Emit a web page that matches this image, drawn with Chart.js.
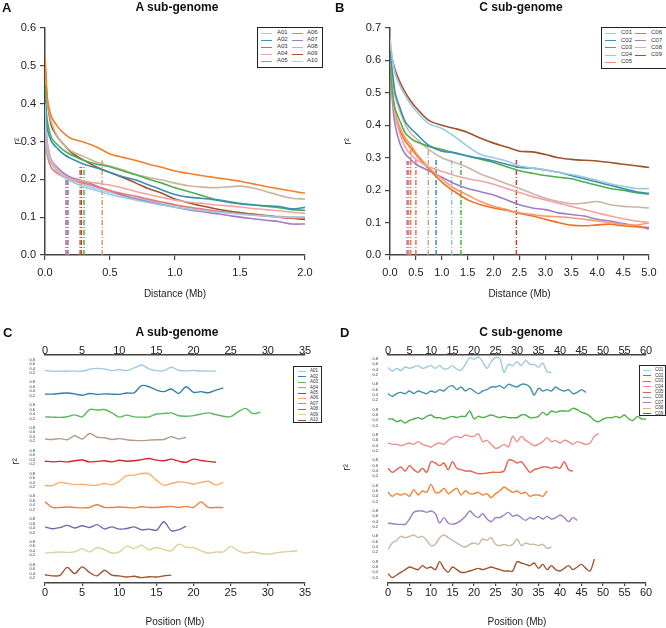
<!DOCTYPE html>
<html>
<head>
<meta charset="utf-8">
<script src="https://cdn.jsdelivr.net/npm/chart.js@4.4.0/dist/chart.umd.min.js"></script>
<style>
  body { margin: 0; background: #fff; font-family: "Liberation Sans", Arial, sans-serif; }
  #wrap { position: relative; width: 666px; height: 628px; overflow: hidden; }
  canvas { position: absolute; }
  .letter { position: absolute; font-weight: bold; font-size: 13px; color: #111; }
  .title { position: absolute; font-weight: bold; font-size: 12px; color: #111; transform: translateX(-50%); white-space: nowrap; }
  .rlab { position: absolute; font-size: 10px; color: #222; transform: rotate(-90deg); }
  .legend { position: absolute; border: 1.5px solid #222; background: #fff; box-sizing: border-box; }
</style>
</head>
<body>
<div id="wrap">
  <canvas id="chartA" width="333" height="300" style="left:0;top:0"></canvas>
  <canvas id="chartB" width="333" height="300" style="left:333px;top:0"></canvas>
  <canvas id="chartC" width="333" height="328" style="left:0;top:300px"></canvas>
  <canvas id="chartD" width="333" height="328" style="left:333px;top:300px"></canvas>

  <div class="letter" style="left:2px;top:0">A</div>
  <div class="letter" style="left:335px;top:0">B</div>
  <div class="letter" style="left:3px;top:325px">C</div>
  <div class="letter" style="left:340px;top:325px">D</div>
  <div class="title" style="left:177px;top:0">A sub-genome</div>
  <div class="title" style="left:521px;top:0">C sub-genome</div>
  <div class="title" style="left:177px;top:325px">A sub-genome</div>
  <div class="title" style="left:521px;top:325px">C sub-genome</div>
  <div class="rlab" style="left:12px;top:456px">r²</div>
  <div class="rlab" style="left:343px;top:462px">r²</div>

  <div class="legend" id="legA" style="left:257px;top:27px;width:66px;height:41px"></div>
  <div class="legend" id="legB" style="left:601px;top:27px;width:67px;height:42px"></div>
  <div class="legend" id="legC" style="left:293px;top:366px;width:29px;height:57px"></div>
  <div class="legend" id="legD" style="left:639px;top:365px;width:27px;height:51px"></div>
</div>
<script>
// ---- LD decay, A sub-genome (distance in Mb) ----
const distA = [0, 0.01, 0.02, 0.05, 0.1, 0.15, 0.2, 0.3, 0.4, 0.5, 0.6, 0.7, 0.8, 0.9, 1.0, 1.1, 1.2, 1.3, 1.4, 1.5, 1.6, 1.7, 1.8, 1.9, 2.0];
const decA01 = [0.4, 0.3, 0.27, 0.24, 0.22, 0.205, 0.195, 0.18, 0.17, 0.16, 0.152, 0.145, 0.138, 0.132, 0.126, 0.122, 0.118, 0.114, 0.111, 0.108, 0.105, 0.103, 0.1, 0.1, 0.1];
const decA02 = [0.42, 0.36, 0.33, 0.3, 0.28, 0.265, 0.255, 0.24, 0.23, 0.218, 0.207, 0.198, 0.185, 0.172, 0.16, 0.153, 0.15, 0.146, 0.14, 0.135, 0.132, 0.13, 0.128, 0.122, 0.126];
const decA03 = [0.45, 0.38, 0.35, 0.31, 0.29, 0.275, 0.265, 0.25, 0.24, 0.233, 0.222, 0.212, 0.2, 0.19, 0.178, 0.168, 0.158, 0.148, 0.142, 0.137, 0.133, 0.129, 0.125, 0.12, 0.118];
const decA04 = [0.42, 0.33, 0.29, 0.25, 0.225, 0.21, 0.2, 0.195, 0.19, 0.185, 0.177, 0.168, 0.16, 0.152, 0.145, 0.14, 0.137, 0.133, 0.13, 0.127, 0.123, 0.12, 0.117, 0.113, 0.11];
const decA05 = [0.36, 0.29, 0.26, 0.23, 0.215, 0.205, 0.2, 0.19, 0.18, 0.17, 0.162, 0.155, 0.147, 0.14, 0.133, 0.127, 0.122, 0.117, 0.113, 0.109, 0.106, 0.103, 0.1, 0.098, 0.097];
const decA06 = [0.53, 0.46, 0.41, 0.365, 0.338, 0.32, 0.308, 0.298, 0.285, 0.267, 0.258, 0.25, 0.24, 0.232, 0.222, 0.216, 0.21, 0.205, 0.2, 0.195, 0.188, 0.181, 0.175, 0.169, 0.163];
const decA07 = [0.44, 0.33, 0.29, 0.25, 0.23, 0.215, 0.205, 0.195, 0.182, 0.17, 0.158, 0.148, 0.14, 0.133, 0.126, 0.12, 0.115, 0.11, 0.105, 0.1, 0.096, 0.092, 0.088, 0.082, 0.082];
const decA08 = [0.5, 0.43, 0.4, 0.35, 0.31, 0.29, 0.275, 0.26, 0.245, 0.235, 0.225, 0.213, 0.205, 0.198, 0.19, 0.183, 0.18, 0.178, 0.18, 0.182, 0.177, 0.168, 0.158, 0.15, 0.148];
const decA09 = [0.5, 0.44, 0.4, 0.34, 0.31, 0.29, 0.272, 0.25, 0.232, 0.218, 0.205, 0.19, 0.175, 0.163, 0.148, 0.138, 0.13, 0.123, 0.117, 0.112, 0.108, 0.104, 0.1, 0.097, 0.094];
const decA10 = [0.38, 0.3, 0.27, 0.245, 0.225, 0.212, 0.2, 0.185, 0.175, 0.165, 0.157, 0.15, 0.143, 0.137, 0.131, 0.126, 0.121, 0.117, 0.113, 0.11, 0.107, 0.104, 0.102, 0.1, 0.1];
// half-decay distances (vertical dash-dot lines)
const halfA = [0.16, 0.17, 0.18, 0.27, 0.28, 0.3, 0.44];
const halfAr2 = [0.2, 0.2, 0.2, 0.235, 0.235, 0.235, 0.25];

// ---- LD decay, C sub-genome ----
const distC = [0, 0.05, 0.1, 0.2, 0.3, 0.4, 0.5, 0.75, 1.0, 1.25, 1.5, 1.75, 2.0, 2.25, 2.5, 2.75, 3.0, 3.25, 3.5, 3.75, 4.0, 4.25, 4.5, 4.75, 5.0];
const decC01 = [0.67, 0.6, 0.56, 0.52, 0.49, 0.465, 0.445, 0.405, 0.39, 0.365, 0.335, 0.31, 0.3, 0.29, 0.275, 0.268, 0.262, 0.255, 0.248, 0.24, 0.23, 0.22, 0.212, 0.205, 0.205];
const decC02 = [0.62, 0.56, 0.5, 0.45, 0.41, 0.39, 0.375, 0.338, 0.32, 0.315, 0.305, 0.298, 0.29, 0.28, 0.27, 0.268, 0.262, 0.255, 0.245, 0.235, 0.225, 0.215, 0.205, 0.195, 0.19];
const decC03 = [0.58, 0.5, 0.45, 0.41, 0.375, 0.36, 0.35, 0.335, 0.325, 0.315, 0.305, 0.295, 0.285, 0.272, 0.26, 0.252, 0.245, 0.24, 0.235, 0.225, 0.215, 0.205, 0.2, 0.192, 0.188];
const decC04 = [0.58, 0.5, 0.43, 0.37, 0.33, 0.31, 0.295, 0.272, 0.258, 0.245, 0.235, 0.228, 0.218, 0.205, 0.193, 0.18, 0.17, 0.16, 0.15, 0.14, 0.13, 0.12, 0.112, 0.105, 0.1];
const decC05 = [0.62, 0.5, 0.44, 0.39, 0.36, 0.34, 0.315, 0.27, 0.235, 0.205, 0.185, 0.165, 0.15, 0.14, 0.13, 0.125, 0.12, 0.118, 0.115, 0.11, 0.105, 0.1, 0.095, 0.092, 0.1];
const decC06 = [0.6, 0.49, 0.43, 0.38, 0.35, 0.33, 0.31, 0.265, 0.225, 0.195, 0.17, 0.155, 0.145, 0.138, 0.128, 0.12, 0.11, 0.1, 0.092, 0.09, 0.093, 0.095, 0.09, 0.087, 0.085];
const decC07 = [0.6, 0.47, 0.4, 0.34, 0.31, 0.295, 0.28, 0.26, 0.24, 0.22, 0.205, 0.195, 0.185, 0.17, 0.155, 0.145, 0.14, 0.13, 0.125, 0.12, 0.11, 0.105, 0.097, 0.09, 0.08];
const decC08 = [0.62, 0.55, 0.49, 0.44, 0.4, 0.375, 0.36, 0.325, 0.3, 0.285, 0.27, 0.25, 0.235, 0.22, 0.205, 0.19, 0.175, 0.165, 0.158, 0.16, 0.165, 0.155, 0.15, 0.148, 0.145];
const decC09 = [0.63, 0.6, 0.57, 0.53, 0.5, 0.475, 0.455, 0.415, 0.4, 0.39, 0.378, 0.36, 0.345, 0.333, 0.32, 0.318, 0.31, 0.3, 0.295, 0.292, 0.29, 0.285, 0.28, 0.275, 0.27];
const halfC = [0.33, 0.36, 0.4, 0.5, 0.74, 0.89, 1.19, 1.37, 2.44];
const halfCr2 = [0.29, 0.29, 0.33, 0.3, 0.33, 0.3, 0.3, 0.29, 0.3];

// ---- r2 along chromosomes, values every 1 Mb from 0 ----
const posA01 = [0.32, 0.27, 0.28, 0.27, 0.29, 0.27, 0.36, 0.4, 0.38, 0.3, 0.35, 0.3, 0.42, 0.55, 0.38, 0.3, 0.3, 0.45, 0.32, 0.29, 0.31, 0.28, 0.29, 0.27];
const posA02 = [0.27, 0.27, 0.3, 0.32, 0.28, 0.22, 0.3, 0.26, 0.28, 0.27, 0.26, 0.32, 0.33, 0.65, 0.6, 0.45, 0.38, 0.5, 0.3, 0.6, 0.35, 0.38, 0.33, 0.45, 0.55];
const posA03 = [0.27, 0.26, 0.25, 0.28, 0.36, 0.27, 0.6, 0.58, 0.6, 0.45, 0.26, 0.35, 0.27, 0.26, 0.27, 0.4, 0.42, 0.45, 0.32, 0.3, 0.33, 0.4, 0.45, 0.37, 0.3, 0.28, 0.5, 0.65, 0.42, 0.48];
const posA04 = [0.3, 0.28, 0.32, 0.27, 0.45, 0.3, 0.55, 0.38, 0.36, 0.28, 0.32, 0.27, 0.24, 0.23, 0.25, 0.27, 0.28, 0.4, 0.3, 0.38];
const posA05 = [0.33, 0.3, 0.32, 0.3, 0.35, 0.38, 0.3, 0.32, 0.35, 0.3, 0.37, 0.33, 0.35, 0.4, 0.45, 0.38, 0.35, 0.42, 0.33, 0.28, 0.42, 0.36, 0.32, 0.28];
const posA06 = [0.25, 0.26, 0.4, 0.35, 0.3, 0.32, 0.28, 0.27, 0.35, 0.3, 0.45, 0.7, 0.72, 0.8, 0.78, 0.5, 0.28, 0.35, 0.42, 0.4, 0.32, 0.4, 0.45, 0.28, 0.4];
const posA07 = [0.55, 0.3, 0.3, 0.32, 0.3, 0.28, 0.3, 0.42, 0.3, 0.3, 0.32, 0.3, 0.28, 0.33, 0.3, 0.3, 0.32, 0.35, 0.3, 0.35, 0.3, 0.55, 0.3, 0.3, 0.3];
const posA08 = [0.45, 0.37, 0.42, 0.52, 0.4, 0.5, 0.42, 0.55, 0.36, 0.45, 0.35, 0.38, 0.45, 0.32, 0.35, 0.3, 0.68, 0.28, 0.32, 0.48];
const posA09 = [0.3, 0.32, 0.35, 0.33, 0.35, 0.5, 0.35, 0.55, 0.45, 0.3, 0.35, 0.6, 0.5, 0.65, 0.45, 0.55, 0.45, 0.4, 0.7, 0.55, 0.55, 0.4, 0.3, 0.35, 0.35, 0.6, 0.4, 0.3, 0.35, 0.28, 0.25, 0.3, 0.35, 0.37, 0.4];
const posA10 = [0.35, 0.3, 0.32, 0.68, 0.4, 0.7, 0.45, 0.3, 0.55, 0.33, 0.3, 0.25, 0.28, 0.22, 0.26, 0.25, 0.3, 0.33];

const posC01 = [0.48, 0.35, 0.45, 0.37, 0.5, 0.45, 0.5, 0.55, 0.45, 0.5, 0.55, 0.45, 0.55, 0.42, 0.45, 0.55, 0.42, 0.38, 0.6, 0.85, 0.8, 0.88, 0.7, 0.45, 0.7, 0.86, 0.82, 0.3, 0.6, 0.55, 0.7, 0.55, 0.75, 0.6, 0.6, 0.5, 0.65, 0.32, 0.3];
const posC02 = [0.45, 0.35, 0.45, 0.5, 0.45, 0.55, 0.45, 0.55, 0.5, 0.45, 0.55, 0.5, 0.6, 0.55, 0.7, 0.75, 0.6, 0.7, 0.55, 0.65, 0.55, 0.45, 0.55, 0.6, 0.7, 0.7, 0.75, 0.65, 0.8, 0.75, 0.7, 0.8, 0.8, 0.7, 0.4, 0.65, 0.55, 0.6, 0.55, 0.7, 0.6, 0.55, 0.6, 0.45, 0.5, 0.6, 0.5];
const posC03 = [0.45, 0.45, 0.35, 0.4, 0.3, 0.4, 0.45, 0.5, 0.45, 0.55, 0.6, 0.5, 0.5, 0.45, 0.5, 0.55, 0.5, 0.55, 0.55, 0.75, 0.45, 0.55, 0.5, 0.55, 0.6, 0.55, 0.5, 0.55, 0.5, 0.5, 0.5, 0.6, 0.6, 0.5, 0.5, 0.55, 0.7, 0.6, 0.75, 0.7, 0.75, 0.75, 0.75, 0.85, 0.8, 0.7, 0.65, 0.55, 0.4, 0.35, 0.45, 0.5, 0.5, 0.55, 0.5, 0.6, 0.45, 0.4, 0.55, 0.45, 0.45];
const posC04 = [0.5, 0.45, 0.45, 0.4, 0.45, 0.5, 0.45, 0.55, 0.45, 0.4, 0.35, 0.45, 0.5, 0.45, 0.6, 0.7, 0.75, 0.7, 0.8, 0.75, 0.75, 0.85, 0.55, 0.6, 0.45, 0.3, 0.35, 0.45, 0.35, 0.75, 0.55, 0.75, 0.6, 0.5, 0.4, 0.45, 0.55, 0.7, 0.55, 0.6, 0.5, 0.6, 0.55, 0.45, 0.55, 0.5, 0.45, 0.5, 0.75, 0.85];
const posC05 = [0.5, 0.35, 0.45, 0.55, 0.4, 0.6, 0.45, 0.35, 0.5, 0.35, 0.75, 0.7, 0.6, 0.7, 0.45, 0.75, 0.5, 0.45, 0.4, 0.4, 0.35, 0.3, 0.3, 0.32, 0.35, 0.35, 0.35, 0.4, 0.8, 0.8, 0.7, 0.75, 0.55, 0.35, 0.45, 0.5, 0.55, 0.55, 0.5, 0.55, 0.5, 0.75, 0.45, 0.4];
const posC06 = [0.55, 0.4, 0.5, 0.45, 0.5, 0.4, 0.65, 0.45, 0.6, 0.55, 0.85, 0.55, 0.55, 0.7, 0.5, 0.6, 0.7, 0.45, 0.6, 0.5, 0.5, 0.55, 0.45, 0.5, 0.35, 0.5, 0.6, 0.75, 0.65, 0.55, 0.6, 0.5, 0.55, 0.4, 0.45, 0.45, 0.4, 0.6];
const posC07 = [0.35, 0.32, 0.3, 0.3, 0.3, 0.5, 0.75, 0.8, 0.8, 0.75, 0.8, 0.7, 0.35, 0.55, 0.35, 0.3, 0.35, 0.45, 0.6, 0.8, 0.65, 0.55, 0.7, 0.5, 0.4, 0.55, 0.55, 0.65, 0.75, 0.6, 0.65, 0.55, 0.45, 0.55, 0.5, 0.6, 0.5, 0.6, 0.5, 0.55, 0.65, 0.55, 0.4, 0.55, 0.45];
const posC08 = [0.3, 0.55, 0.65, 0.8, 0.75, 0.8, 0.85, 0.75, 0.8, 0.65, 0.45, 0.5, 0.75, 0.85, 0.75, 0.65, 0.55, 0.45, 0.4, 0.5, 0.55, 0.5, 0.7, 0.65, 0.75, 0.5, 0.45, 0.5, 0.45, 0.5, 0.7, 0.45, 0.55, 0.5, 0.5, 0.45, 0.5, 0.35, 0.4];
const posC09 = [0.35, 0.2, 0.3, 0.4, 0.5, 0.6, 0.55, 0.5, 0.65, 0.55, 0.6, 0.5, 0.8, 0.55, 0.4, 0.6, 0.5, 0.4, 0.4, 0.45, 0.5, 0.55, 0.5, 0.55, 0.6, 0.55, 0.5, 0.45, 0.45, 0.45, 0.8, 0.75, 0.7, 0.65, 0.75, 0.55, 0.7, 0.5, 0.65, 0.5, 0.45, 0.55, 0.65, 0.5, 0.6, 0.7, 0.55, 0.45, 0.9];

const trackTicks = [0.2, 0.4, 0.6, 0.8];
const namesA = ['A01', 'A02', 'A03', 'A04', 'A05', 'A06', 'A07', 'A08', 'A09', 'A10'];
const namesC = ['C01', 'C02', 'C03', 'C04', 'C05', 'C06', 'C07', 'C08', 'C09'];

const colA = ['#9ecae1', '#3b8fb5', '#4daf4a', '#f4a3a3', '#eb7b6e', '#f47f28', '#a17cc8', '#c8b69e', '#a0522d', '#a6cee3'];
const colB = ['#9ecae1', '#3b8fb5', '#4daf4a', '#f4a3a3', '#f59a70', '#f2701f', '#9b7fc9', '#c9b8a3', '#a0522d'];
const halfAcol = ['#8a94d6', '#e2574c', '#8fb2e0', '#e2574c', '#a0522d', '#4daf4a', '#e0966a'];
const halfCcol = ['#b06fb0', '#e27a8a', '#f47f28', '#eb6e5a', '#bfa88e', '#3b8fb5', '#8fc3e0', '#4daf4a', '#b5472a'];
const colTrA = ['#9ecae1', '#2f7fa8', '#5cb85c', '#b39c8a', '#d7262b', '#fdae6b', '#ef7d3c', '#7b61b0', '#ddd09a', '#a0522d'];
const colTrC = ['#9ecae1', '#3d8fa8', '#4daf4a', '#f28e8e', '#e8614f', '#f58231', '#9b7fc9', '#c9b8a3', '#a0522d'];

const axisCol = '#444';
const fontFam = "'Liberation Sans', Arial, sans-serif";

function decayChart(id, dist, curves, names, colors, half, halfR2, halfCol, xMax, yMax, leftW, rightPad, rPad) {
  const datasets = curves.map((c, i) => ({
    label: names[i],
    data: dist.map((d, j) => ({ x: d, y: c[j] })),
    borderColor: colors[i], borderWidth: 1.6, pointRadius: 0, tension: 0.3, fill: false
  }));
  half.forEach((d, i) => {
    datasets.push({
      label: '', data: [{ x: d, y: 0 }, { x: d, y: halfR2[i] }],
      borderColor: halfCol[i], borderWidth: 1.5, borderDash: [5, 2, 1, 2], pointRadius: 0
    });
  });
  new Chart(document.getElementById(id), {
    type: 'line',
    data: { datasets },
    options: {
      responsive: false, animation: false,
      layout: { padding: { top: 28, right: rightPad, left: 0, bottom: 0 } },
      plugins: { legend: { display: false }, tooltip: { enabled: false } },
      scales: {
        x: {
          type: 'linear', min: 0, max: xMax,
          ticks: { stepSize: 0.5, autoSkip: false, maxRotation: 0, padding: 6, color: '#222',
                   font: { family: fontFam, size: 11 }, callback: v => v.toFixed(1) },
          grid: { drawOnChartArea: false, tickLength: 5, color: axisCol, lineWidth: 1.2 },
          border: { color: axisCol, width: 1.5 },
          title: { display: true, text: 'Distance (Mb)', color: '#222', font: { family: fontFam, size: 10 }, padding: { top: 0, bottom: 0 } },
          afterFit: s => { s.height = 45; }
        },
        y: {
          min: 0, max: yMax,
          ticks: { stepSize: 0.1, autoSkip: false, padding: 4, color: '#222',
                   font: { family: fontFam, size: 11 }, callback: v => v.toFixed(1) },
          grid: { drawOnChartArea: false, tickLength: 5, color: axisCol, lineWidth: 1.2 },
          border: { color: axisCol, width: 1.5 },
          title: { display: true, text: 'r²', color: '#222', font: { family: fontFam, size: 10 }, padding: { top: rPad, bottom: 0 } },
          afterFit: s => { s.width = leftW; }
        }
      }
    }
  });
}

function trackChart(id, tracks, names, colors, xMax, yMin, yMax, leftW, rightPad) {
  const scales = {};
  const datasets = [];
  // stacked y axes: the last defined one sits on top, so add from the bottom track up
  for (let i = tracks.length - 1; i >= 0; i--) {
    const yid = 'y' + i;
    scales[yid] = {
      type: 'linear', position: 'left', stack: 'tracks', stackWeight: 1, min: yMin, max: yMax,
      grid: { display: false }, border: { display: false },
      ticks: { autoSkip: false, padding: 2, color: '#333', font: { family: fontFam, size: 4 }, callback: v => v.toFixed(1) },
      afterBuildTicks: s => { s.ticks = trackTicks.map(v => ({ value: v })); },
      afterFit: s => { s.width = leftW; }
    };
  }
  tracks.forEach((vals, i) => {
    datasets.push({
      label: names[i], yAxisID: 'y' + i,
      data: vals.map((v, j) => ({ x: j, y: v })),
      borderColor: colors[i], borderWidth: 1.4, pointRadius: 0, tension: 0.3, fill: false
    });
  });
  const xAxis = (pos, tl, pad) => ({
    type: 'linear', position: pos, min: 0, max: xMax,
    ticks: { stepSize: 5, autoSkip: false, maxRotation: 0, padding: pad, color: '#222', font: { family: fontFam, size: 11 } },
    grid: { drawOnChartArea: false, tickLength: tl, color: axisCol, lineWidth: 1.2 },
    border: { color: axisCol, width: 1.5 }
  });
  scales.x = Object.assign(xAxis('bottom', 3, 0), {
    title: { display: true, text: 'Position (Mb)', color: '#222', font: { family: fontFam, size: 10 }, padding: { top: 0, bottom: 0 } },
    afterFit: s => { s.height = 45; }
  });
  scales.xTop = Object.assign(xAxis('top', 2, -5), { afterFit: s => { s.height = 55; } });
  new Chart(document.getElementById(id), {
    type: 'line',
    data: { datasets },
    options: {
      responsive: false, animation: false,
      layout: { padding: { top: 0, right: rightPad, left: 0, bottom: 0 } },
      plugins: { legend: { display: false }, tooltip: { enabled: false } },
      scales
    }
  });
}

function drawLegend(boxId, names, colors, cfg) {
  const box = document.getElementById(boxId);
  const perCol = Math.ceil(names.length / cfg.cols);
  names.forEach((n, i) => {
    const col = Math.floor(i / perCol), row = i % perCol;
    const y = cfg.y0 + row * cfg.rowH;
    const ln = document.createElement('div');
    ln.style.cssText = `position:absolute;left:${cfg.lineX[col]}px;top:${y}px;width:${cfg.lineW}px;height:1px;background:${colors[i]}`;
    const tx = document.createElement('div');
    tx.style.cssText = `position:absolute;left:${cfg.textX[col]}px;top:${y - cfg.font * 0.6}px;font-size:${cfg.font}px;line-height:${cfg.font * 1.2}px;color:#333`;
    tx.textContent = n;
    box.appendChild(ln);
    box.appendChild(tx);
  });
}

decayChart('chartA', distA, [decA01, decA02, decA03, decA04, decA05, decA06, decA07, decA08, decA09, decA10],
  namesA, colA, halfA, halfAr2, halfAcol, 2.0, 0.6, 45, 28, 12);
decayChart('chartB', distC, [decC01, decC02, decC03, decC04, decC05, decC06, decC07, decC08, decC09],
  namesC, colB, halfC, halfCr2, halfCcol, 5.0, 0.7, 57, 17, 9);
trackChart('chartC', [posA01, posA02, posA03, posA04, posA05, posA06, posA07, posA08, posA09, posA10],
  namesA, colTrA, 35, -0.02, 1.0, 45, 28);
trackChart('chartD', [posC01, posC02, posC03, posC04, posC05, posC06, posC07, posC08, posC09],
  namesC, colTrC, 60, 0, 0.95, 55, 20);

drawLegend('legA', namesA, colA, { cols: 2, y0: 5, rowH: 7, lineX: [3, 34], textX: [19, 49], lineW: 11, font: 6 });
drawLegend('legB', namesC, colB, { cols: 2, y0: 5, rowH: 7.2, lineX: [3, 33], textX: [19, 49], lineW: 11, font: 6 });
drawLegend('legC', namesA, colTrA, { cols: 1, y0: 4, rowH: 5.4, lineX: [4], textX: [16], lineW: 8, font: 4.5 });
drawLegend('legD', namesC, colTrC, { cols: 1, y0: 4, rowH: 5.4, lineX: [3], textX: [15], lineW: 8, font: 4.5 });
</script>
</body>
</html>
